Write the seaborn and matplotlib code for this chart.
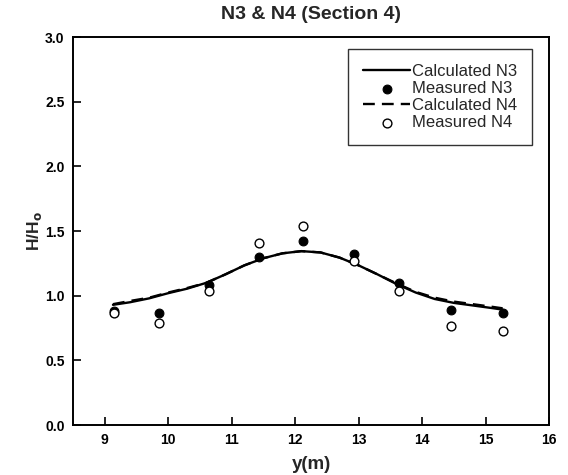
import matplotlib
matplotlib.use("Agg")
import matplotlib.pyplot as plt
import seaborn as sns
import pandas as pd

# Measured wave height ratios at the gauge positions
y_meas = [9.15, 9.86, 10.65, 11.43, 12.13, 12.93, 13.63, 14.46, 15.27]
h_meas_n3 = [0.88, 0.87, 1.08, 1.30, 1.42, 1.32, 1.10, 0.89, 0.87]
h_meas_n4 = [0.87, 0.79, 1.04, 1.41, 1.54, 1.27, 1.04, 0.77, 0.73]

# Calculated profiles along the section
y_calc = [9.13, 9.4, 9.7, 10.0, 10.3, 10.6, 10.9, 11.2, 11.5, 11.8, 12.1,
          12.4, 12.7, 13.0, 13.3, 13.6, 13.9, 14.2, 14.5, 14.8, 15.1, 15.27]
h_calc_n3 = [0.93, 0.95, 0.98, 1.02, 1.055, 1.10, 1.165, 1.235, 1.29, 1.328,
             1.345, 1.335, 1.295, 1.235, 1.165, 1.09, 1.025, 0.975, 0.945,
             0.925, 0.905, 0.893]
h_calc_n4 = [0.935, 0.96, 0.985, 1.025, 1.06, 1.10, 1.165, 1.235, 1.29, 1.328,
             1.345, 1.335, 1.295, 1.235, 1.165, 1.095, 1.03, 0.985, 0.955,
             0.935, 0.915, 0.903]

sns.set_style("ticks")
plt.rcParams["font.family"] = ["Liberation Sans", "DejaVu Sans"]

fig = plt.figure(figsize=(5.68, 4.75), dpi=100)
ax = fig.add_axes([0.1285, 0.105, 0.838, 0.817])

calc = pd.DataFrame({"y": y_calc, "n3": h_calc_n3, "n4": h_calc_n4})
meas = pd.DataFrame({"y": y_meas, "n3": h_meas_n3, "n4": h_meas_n4})

sns.lineplot(data=calc, x="y", y="n3", ax=ax, color="black", lw=1.7,
             label="Calculated N3")
sns.scatterplot(data=meas, x="y", y="n3", ax=ax, color="black",
                edgecolor="black", s=40, linewidth=0.8, label="Measured N3",
                zorder=3)
sns.lineplot(data=calc, x="y", y="n4", ax=ax, color="black", lw=1.7,
             linestyle=(0, (5, 3)), label="Calculated N4")
sns.scatterplot(data=meas, x="y", y="n4", ax=ax, facecolor="white",
                edgecolor="black", s=40, linewidth=1.0, label="Measured N4",
                zorder=3)

ax.set_xlim(8.5, 16)
ax.set_ylim(0, 3.0)
ax.set_xticks(range(9, 17))
ax.set_yticks([0.0, 0.5, 1.0, 1.5, 2.0, 2.5, 3.0])
ax.set_yticklabels(["0.0", "0.5", "1.0", "1.5", "2.0", "2.5", "3.0"])
ax.tick_params(direction="in", length=6, width=1.2, labelsize=10,
               colors="black", pad=6)
for lab in ax.get_xticklabels() + ax.get_yticklabels():
    lab.set_fontweight("bold")
for sp in ax.spines.values():
    sp.set_visible(True)
    sp.set_linewidth(1.4)
    sp.set_color("black")

ax.set_xlabel("y(m)", fontsize=13.5, fontweight="bold", labelpad=6)
ax.set_ylabel("H/H$_\\mathbf{o}$", fontsize=12.5, fontweight="bold", labelpad=1)
ax.set_title("N3 & N4 (Section 4)", fontsize=14, fontweight="bold", pad=13)

leg = ax.legend(loc="upper right", bbox_to_anchor=(0.964, 0.969),
                frameon=True, fancybox=False, edgecolor="black",
                fontsize=12, handlelength=2.8, handletextpad=0.1,
                borderpad=0.9, labelspacing=0.12, borderaxespad=0.0)
leg.get_frame().set_linewidth(1.0)

fig.savefig("out.png", dpi=100)
